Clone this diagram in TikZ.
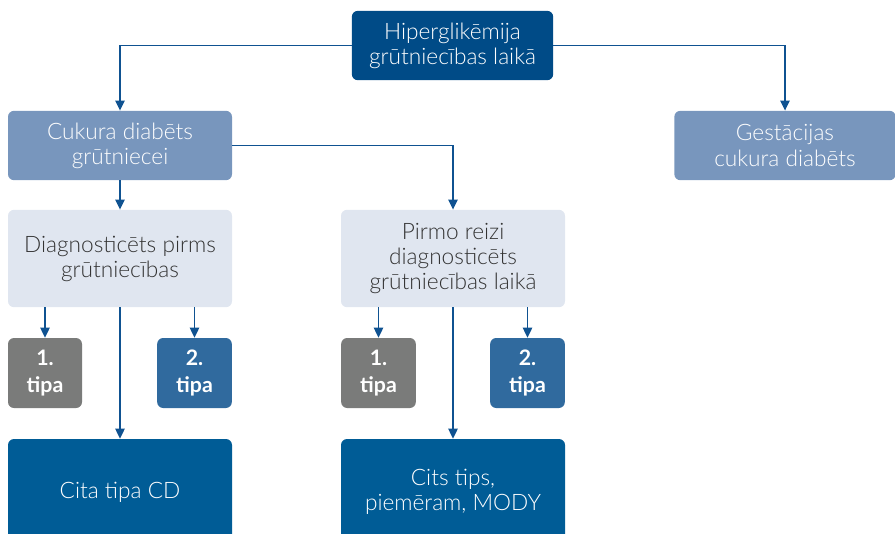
\documentclass[tikz,border=0pt]{standalone}
\usepackage{fontspec}
\setmainfont{Lato Light}[BoldFont={Lato Bold}]
\usetikzlibrary{arrows.meta}
\definecolor{cTop}{HTML}{004B87}
\definecolor{cMid}{HTML}{7896BD}
\definecolor{cLight}{HTML}{E0E6F0}
\definecolor{cGray}{HTML}{7A7B7A}
\definecolor{cTwo}{HTML}{306A9E}
\definecolor{cBot}{HTML}{005C96}
\definecolor{cArr}{HTML}{0F5291}
\definecolor{cTxt}{HTML}{333333}
\begin{document}
\begin{tikzpicture}[x=0.75pt,y=-0.75pt,
  box/.style={rounded corners=4.5pt, inner sep=0pt, align=center, font=\fontsize{17}{18.8}\selectfont},
  topbox/.style={box, fill=cTop, text=white},
  midbox/.style={box, fill=cMid, text=white},
  lightbox/.style={box, fill=cLight, text=cTxt},
  onebox/.style={box, fill=cGray, text=white, font=\bfseries\fontsize{16}{20}\selectfont},
  twobox/.style={box, fill=cTwo, text=white, font=\bfseries\fontsize{16}{20}\selectfont},
  botbox/.style={box, fill=cBot, text=white},
  arr/.style={draw=cArr, line width=1pt, -{Triangle[length=7.5pt,width=7pt]}}
]
\useasboundingbox (0,0) rectangle (895,533);
\node[topbox, minimum width=151pt, minimum height=52pt] (top) at (452.5,45.5) {Hiperglikēmija\\grūtniecības laikā};
\node[midbox, minimum width=168pt, minimum height=52pt] (cuk) at (120,145.5) {Cukura diabēts\\grūtniecei};
\node[midbox, minimum width=166pt, minimum height=52pt] (gest) at (785,145.5) {Gestācijas\\cukura diabēts};
\node[lightbox, minimum width=168pt, minimum height=73pt] (diag) at (120,258.5) {Diagnosticēts pirms\\grūtniecības};
\node[lightbox, minimum width=168pt, minimum height=73pt] (pirmo) at (453,258.5) {Pirmo reizi\\diagnosticēts\\grūtniecības laikā};
\node[onebox, minimum width=55.5pt, minimum height=52.5pt] (t1a) at (45,373) {1.\\tipa};
\node[twobox, minimum width=56pt, minimum height=52.5pt] (t2a) at (194.5,373) {2.\\tipa};
\node[onebox, minimum width=56pt, minimum height=52.5pt] (t1b) at (378.5,373) {1.\\tipa};
\node[twobox, minimum width=56pt, minimum height=52.5pt] (t2b) at (527.5,373) {2.\\tipa};
\node[botbox, minimum width=168pt, minimum height=79.5pt] (cita) at (120,492) {Cita tipa CD};
\node[botbox, minimum width=168pt, minimum height=79.5pt] (cits) at (453,492) {Cits tips,\\piemēram, MODY};
\draw[arr] (top.west) -| (cuk.north);
\draw[arr] (top.east) -| (gest.north);
\draw[arr] (cuk.south) -- (diag.north);
\draw[arr] (cuk.east) -| (pirmo.north);
\draw[arr] (t1a.north |- diag.south) -- (t1a.north);
\draw[arr] (t2a.north |- diag.south) -- (t2a.north);
\draw[arr] (diag.south) -- (cita.north);
\draw[arr] (t1b.north |- pirmo.south) -- (t1b.north);
\draw[arr] (t2b.north |- pirmo.south) -- (t2b.north);
\draw[arr] (pirmo.south) -- (cits.north);
\end{tikzpicture}
\end{document}
